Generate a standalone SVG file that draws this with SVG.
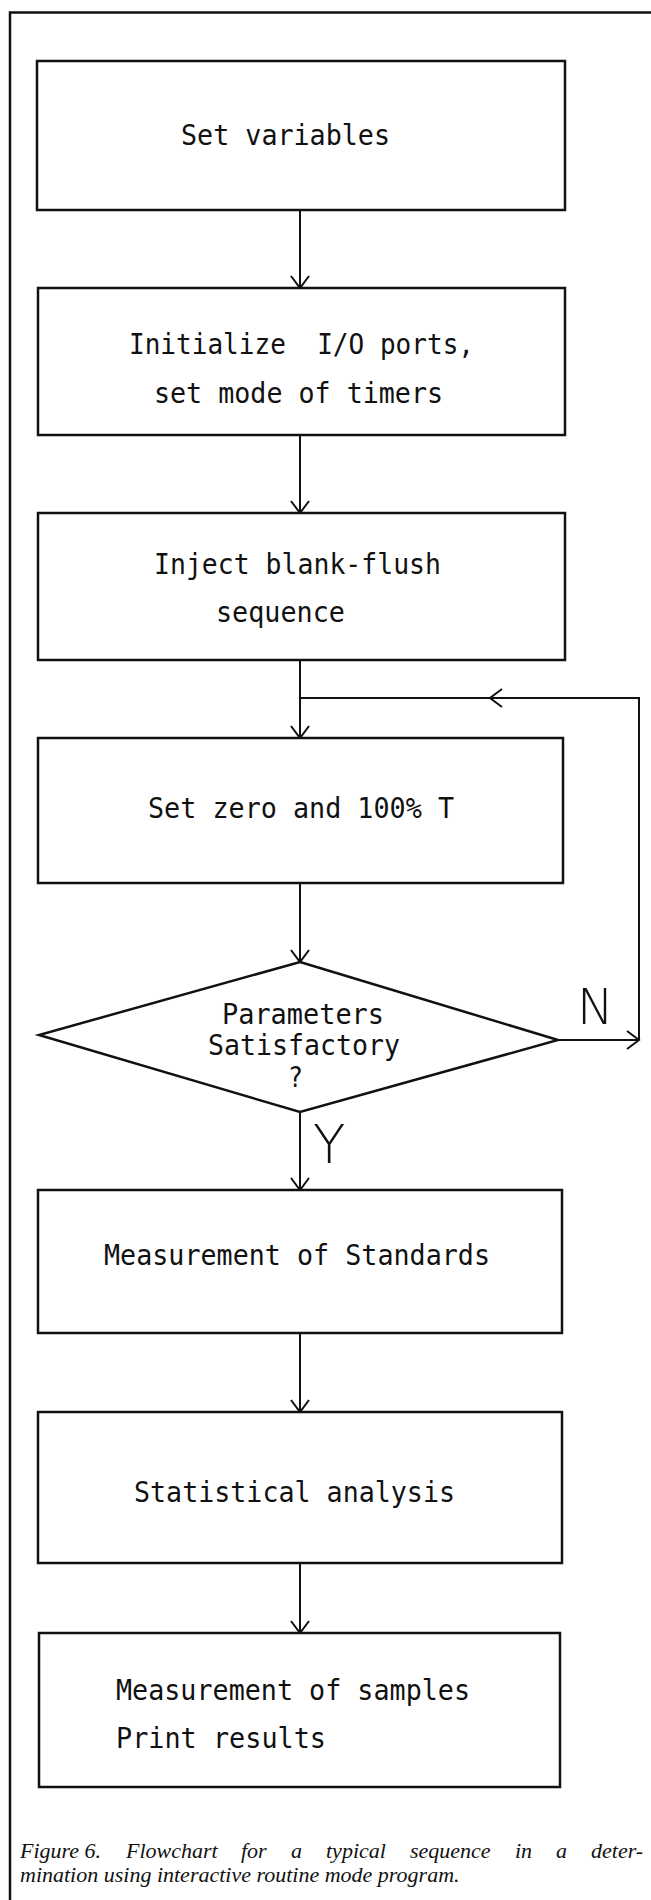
<svg xmlns="http://www.w3.org/2000/svg" width="651" height="1900" viewBox="0 0 651 1900">
<defs>
<style>
.box{fill:#fff;stroke:#111;stroke-width:2.5}
.lbl{font-family:"DejaVu Sans Mono","Liberation Mono",monospace;font-size:29px;fill:#111;white-space:pre}
.yn{font-family:"DejaVu Sans","Liberation Sans",sans-serif;font-weight:200;fill:#111}
.cap{font-family:"Liberation Serif","Times New Roman",serif;font-style:italic;font-size:22px;fill:#111}
.cn{fill:none;stroke:#111;stroke-width:2}
</style>
<marker id="arr" markerUnits="userSpaceOnUse" markerWidth="15" markerHeight="22" viewBox="-13 -11 15 22" refX="0" refY="0" orient="auto">
<path d="M-12,-9 L0,0 L-12,9" fill="none" stroke="#111" stroke-width="2"/>
</marker>
</defs>
<rect width="651" height="1900" fill="#fff"/>
<g id="frame">
<path d="M651,12.5 H10 V1900" fill="none" stroke="#111" stroke-width="2.5"/>
</g>
<g id="connectors">
<line class="cn" x1="300" y1="210" x2="300" y2="288" marker-end="url(#arr)"/>
<line class="cn" x1="300" y1="435" x2="300" y2="513" marker-end="url(#arr)"/>
<line class="cn" x1="300" y1="660" x2="300" y2="738" marker-end="url(#arr)"/>
<line class="cn" x1="300" y1="883" x2="300" y2="962" marker-end="url(#arr)"/>
<line class="cn" x1="300" y1="1112" x2="300" y2="1190" marker-end="url(#arr)"/>
<line class="cn" x1="300" y1="1333" x2="300" y2="1412" marker-end="url(#arr)"/>
<line class="cn" x1="300" y1="1563" x2="300" y2="1633" marker-end="url(#arr)"/>
<line class="cn" x1="558" y1="1040" x2="639" y2="1040" marker-end="url(#arr)"/>
<path class="cn" d="M639,1040 V698 H490" marker-end="url(#arr)"/>
<path class="cn" d="M490,698 H300"/>
<text class="yn" x="577" y="1024" font-size="49">N</text>
<text class="yn" x="313" y="1163" font-size="53">Y</text>
</g>
<g id="n1"><rect class="box" x="37" y="61" width="528" height="149"/>
<text class="lbl" x="181" y="145" textLength="209" lengthAdjust="spacingAndGlyphs">Set variables</text></g>
<g id="n2"><rect class="box" x="38" y="288" width="527" height="147"/>
<text class="lbl" x="129" y="354" textLength="345" lengthAdjust="spacingAndGlyphs">Initialize  I/O ports,</text>
<text class="lbl" x="154" y="403" textLength="289" lengthAdjust="spacingAndGlyphs">set mode of timers</text></g>
<g id="n3"><rect class="box" x="38" y="513" width="527" height="147"/>
<text class="lbl" x="154" y="574" textLength="287" lengthAdjust="spacingAndGlyphs">Inject blank-flush</text>
<text class="lbl" x="216" y="622" textLength="129" lengthAdjust="spacingAndGlyphs">sequence</text></g>
<g id="n4"><rect class="box" x="38" y="738" width="525" height="145"/>
<text class="lbl" x="148" y="818" textLength="306" lengthAdjust="spacingAndGlyphs">Set zero and 100% T</text></g>
<g id="n5"><polygon class="box" points="300,962 558,1040 300,1112 39,1035"/>
<text class="lbl" x="222" y="1024" textLength="162" lengthAdjust="spacingAndGlyphs">Parameters</text>
<text class="lbl" x="208" y="1055" textLength="192" lengthAdjust="spacingAndGlyphs">Satisfactory</text>
<text class="lbl" x="288" y="1087" textLength="15" lengthAdjust="spacingAndGlyphs">?</text></g>
<g id="n6"><rect class="box" x="38" y="1190" width="524" height="143"/>
<text class="lbl" x="104" y="1265" textLength="386" lengthAdjust="spacingAndGlyphs">Measurement of Standards</text></g>
<g id="n7"><rect class="box" x="38" y="1412" width="524" height="151"/>
<text class="lbl" x="134" y="1502" textLength="321" lengthAdjust="spacingAndGlyphs">Statistical analysis</text></g>
<g id="n8"><rect class="box" x="39" y="1633" width="521" height="154"/>
<text class="lbl" x="116" y="1700" textLength="354" lengthAdjust="spacingAndGlyphs">Measurement of samples</text>
<text class="lbl" x="116" y="1748" textLength="210" lengthAdjust="spacingAndGlyphs">Print results</text></g>
<g id="caption">
<text class="cap" y="1858"><tspan x="20">Figure 6.</tspan><tspan x="126">Flowchart</tspan><tspan x="241">for</tspan><tspan x="291">a</tspan><tspan x="326">typical</tspan><tspan x="410">sequence</tspan><tspan x="515">in</tspan><tspan x="556">a</tspan><tspan x="591">deter-</tspan></text>
<text class="cap" x="20" y="1882">mination using interactive routine mode program.</text>
</g>
</svg>
